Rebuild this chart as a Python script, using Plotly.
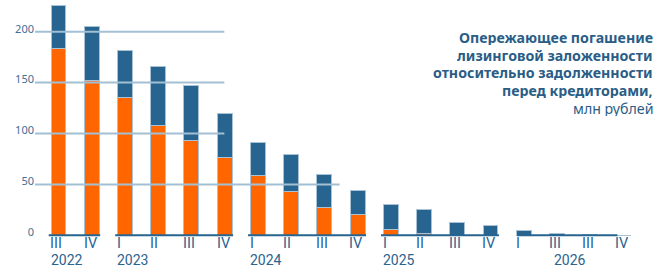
import plotly.graph_objects as go

# ---- data ----
quarters = ["III", "IV", "I", "II", "III", "IV", "I", "II", "III", "IV",
            "I", "II", "III", "IV", "I", "III", "III", "IV"]
years = ["2022", "2023", "2024", "2025", "2026"]
year_of_bar = ["2022", "2022", "2023", "2023", "2023", "2023", "2024", "2024", "2024", "2024",
               "2025", "2025", "2025", "2025", "2026", "2026", "2026", "2026"]
orange_part = [183.7, 152.5, 135.5, 108.3, 93.3, 76.2, 58.3, 42.8, 27.1, 20.0,
               6.2, 1.3, 0, 0, 0, 0, 0, 0]
blue_part = [42.3, 52.5, 46.2, 57.3, 54.0, 43.2, 33.0, 36.8, 33.1, 24.2,
             23.9, 23.6, 12.8, 9.8, 4.3, 1.5, 0.4, 0.2]
y_ticks = [0, 50, 100, 150, 200]
title_lines = ["Опережающее погашение", "лизинговой заложенности",
               "относительно задолженности", "перед кредиторами,"]
title_unit = "млн рублей"

# ---- style ----
ORANGE = "#ff6600"
BLUE = "#27648f"
EDGE = "#a9c2d6"
GRID = "#a3bfd4"
TXT = "#2b6390"
FONT = "Noto Sans"
AXFONT = "Roboto"

cats = [f"{y} {q} #{i}" for i, (y, q) in enumerate(zip(year_of_bar, quarters))]
HALF = 0.225

fig = go.Figure()
fig.add_trace(go.Bar(x=cats, y=orange_part, marker=dict(color=ORANGE, line=dict(color=EDGE, width=1)),
                     hoverinfo="skip"))
fig.add_trace(go.Bar(x=cats, y=blue_part, marker=dict(color=BLUE, line=dict(color=EDGE, width=1)),
                     hoverinfo="skip"))

shapes = []
# grid lines (drawn above bars)
for v in y_ticks[1:]:
    x1 = 8.46 if v == 50 else 4.99
    shapes.append(dict(type="line", xref="x", yref="y", x0=-0.71, x1=x1, y0=v, y1=v,
                       line=dict(color=GRID, width=2), layer="above"))
# axis segments per year
for y in years:
    idx = [i for i, yy in enumerate(year_of_bar) if yy == y]
    x0 = idx[0] - HALF - 0.07
    x1 = idx[-1] + HALF + 0.03
    if y == "2026":
        x0 = idx[0] - 0.2
        x1 = idx[-1] - 0.18
    shapes.append(dict(type="line", xref="x", yref="y", x0=x0, x1=x1, y0=0, y1=0,
                       line=dict(color=BLUE, width=2), layer="above"))

annotations = []
for i, q in enumerate(quarters):
    annotations.append(dict(x=i - HALF - 0.08, y=1 - 243 / 268, xref="x", yref="paper",
                            xanchor="left", yanchor="middle", text=q, showarrow=False,
                            font=dict(family=AXFONT, size=14.5, color=TXT)))
for y in years:
    idx = [i for i, yy in enumerate(year_of_bar) if yy == y]
    if y == "2026":
        xa, xx = "center", (idx[0] + idx[-1]) / 2 - 0.1
    else:
        xa, xx = "left", idx[0] - HALF - 0.06
    annotations.append(dict(x=xx, y=1 - 260 / 268, xref="x", yref="paper",
                            xanchor=xa, yanchor="middle", text=y, showarrow=False,
                            font=dict(family=AXFONT, size=14, color=TXT)))
# title: one annotation per line, 17.5 px apart
for k, t in enumerate(title_lines + [title_unit]):
    txt = f"<b>{t}</b>" if k < len(title_lines) else t
    annotations.append(dict(x=653 / 667, y=1 - (38 + 17.5 * k) / 268, xref="paper", yref="paper",
                            xanchor="right", yanchor="middle", text=txt, showarrow=False,
                            height=15, valign="middle", borderpad=0,
                            font=dict(family=FONT, size=14.2, color="#2a5d86")))

pitch = 33.23
r0 = (35 - 58.5) / pitch
r1 = r0 + 632 / pitch
fig.update_layout(
    width=667, height=268, margin=dict(l=35, r=0, t=0, b=0),
    plot_bgcolor="white", paper_bgcolor="white",
    barmode="stack", bargap=0.55, showlegend=False,
    xaxis=dict(type="category", range=[r0, r1], showticklabels=False, showgrid=False,
               zeroline=False, showline=False, ticks=""),
    yaxis=dict(range=[-32.1, 231.1], tickvals=y_ticks, showgrid=False, zeroline=False,
               showline=False, ticks="", ticklabelshift=-3,
               tickfont=dict(family=FONT, size=11, color="#3d6f98")),
    shapes=shapes, annotations=annotations,
)
fig.write_html("out.html", config={"displayModeBar": False},
               post_script="document.body.style.margin='0';")
